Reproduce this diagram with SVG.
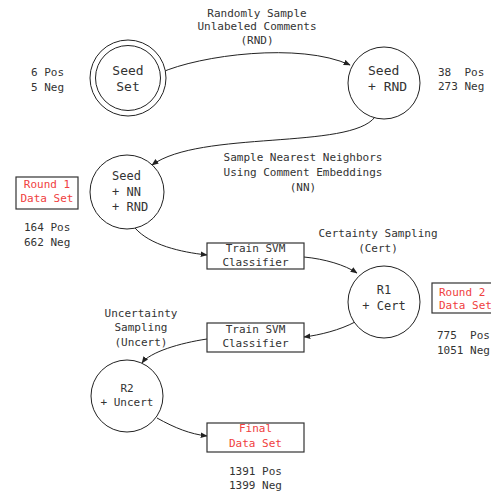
<svg xmlns="http://www.w3.org/2000/svg" width="491" height="494" viewBox="0 0 491 494">
<defs>
<marker id="arr" viewBox="0 0 10 10" refX="9" refY="5" markerWidth="7" markerHeight="7" markerUnits="userSpaceOnUse" orient="auto">
<path d="M0,1 L10,5 L0,9 z" fill="#222"/>
</marker>
<style>
text{font-family:"DejaVu Sans Mono","Liberation Mono",monospace;font-size:11px;fill:#333;white-space:pre}
.c{text-anchor:middle}
.n{font-size:13px}
.m{font-size:12px}
.red{fill:#f04040}
.node{fill:#fff;stroke:#222;stroke-width:1}
.box{fill:#fff;stroke:#333;stroke-width:1.2}
.edge{fill:none;stroke:#222;stroke-width:1;marker-end:url(#arr)}
</style>
</defs>
<rect width="491" height="494" fill="#fff"/>
<g id="edges">
<path class="edge" d="M160,73 C200,55 300,42 350,65"/>
<path class="edge" d="M375,117 C350,150 200,130 152,165"/>
<path class="edge" d="M135,228 C150,245 180,252 207,255"/>
<path class="edge" d="M304,257 C325,259 345,265 357,273"/>
<path class="edge" d="M355,322 C340,330 320,335 304,337"/>
<path class="edge" d="M207,339 C180,343 150,352 142,363"/>
<path class="edge" d="M157,418 C175,428 190,434 207,436"/>
</g>
<g id="edge-labels">
<text class="c" x="257" y="17">Randomly Sample</text>
<text class="c" x="257" y="30">Unlabeled Comments</text>
<text class="c" x="257" y="44">(RND)</text>
<text class="c" x="303" y="161">Sample Nearest Neighbors</text>
<text class="c" x="303" y="176">Using Comment Embeddings</text>
<text class="c" x="303" y="191">(NN)</text>
<text class="c" x="378" y="237">Certainty Sampling</text>
<text class="c" x="378" y="252">(Cert)</text>
<text class="c" x="141" y="317">Uncertainty</text>
<text class="c" x="141" y="331">Sampling</text>
<text class="c" x="141" y="346">(Uncert)</text>
</g>
<g id="seed-set">
<circle class="node" cx="128" cy="78" r="38"/>
<circle class="node" cx="128" cy="78" r="32.5"/>
<text class="c n" x="128" y="75">Seed</text>
<text class="c n" x="128" y="91">Set</text>
</g>
<g id="seed-set-stats">
<text x="31" y="76">6 Pos</text>
<text x="31" y="91">5 Neg</text>
</g>
<g id="seed-rnd">
<circle class="node" cx="384" cy="83" r="36"/>
<text class="n" x="368" y="75">Seed</text>
<text class="n" x="368" y="91">+ RND</text>
</g>
<g id="seed-rnd-stats">
<text x="438" y="76" xml:space="preserve">38  Pos</text>
<text x="438" y="90">273 Neg</text>
</g>
<g id="seed-nn-rnd">
<circle class="node" cx="127" cy="192" r="37"/>
<text class="m" x="112" y="180">Seed</text>
<text class="m" x="112" y="196">+ NN</text>
<text class="m" x="112" y="211">+ RND</text>
</g>
<g id="round1">
<rect class="box" x="16" y="177" width="62" height="32"/>
<text class="c red" x="47" y="188">Round 1</text>
<text class="c red" x="47" y="202">Data Set</text>
<text x="24" y="231">164 Pos</text>
<text x="24" y="246">662 Neg</text>
</g>
<g id="train1">
<rect class="box" x="207" y="243" width="97" height="26"/>
<text class="c" x="255.5" y="252">Train SVM</text>
<text class="c" x="255.5" y="266">Classifier</text>
</g>
<g id="r1-cert">
<circle class="node" cx="384" cy="302" r="36"/>
<text class="c m" x="384" y="294">R1</text>
<text class="c m" x="384" y="310">+ Cert</text>
</g>
<g id="round2">
<rect class="box" x="432" y="283" width="70" height="30"/>
<text class="red" x="439" y="296">Round 2</text>
<text class="red" x="439" y="309">Data Set</text>
<text x="437" y="339" xml:space="preserve">775  Pos</text>
<text x="437" y="354">1051 Neg</text>
</g>
<g id="train2">
<rect class="box" x="207" y="323" width="97" height="29"/>
<text class="c" x="255.5" y="333">Train SVM</text>
<text class="c" x="255.5" y="347">Classifier</text>
</g>
<g id="r2-uncert">
<circle class="node" cx="127" cy="396" r="36"/>
<text class="c" x="127" y="392">R2</text>
<text class="c" x="127" y="406">+ Uncert</text>
</g>
<g id="final">
<rect class="box" x="207" y="423" width="97" height="29"/>
<text class="c red" x="255.5" y="432">Final</text>
<text class="c red" x="255.5" y="447">Data Set</text>
<text x="229" y="475">1391 Pos</text>
<text x="229" y="489">1399 Neg</text>
</g>
</svg>
